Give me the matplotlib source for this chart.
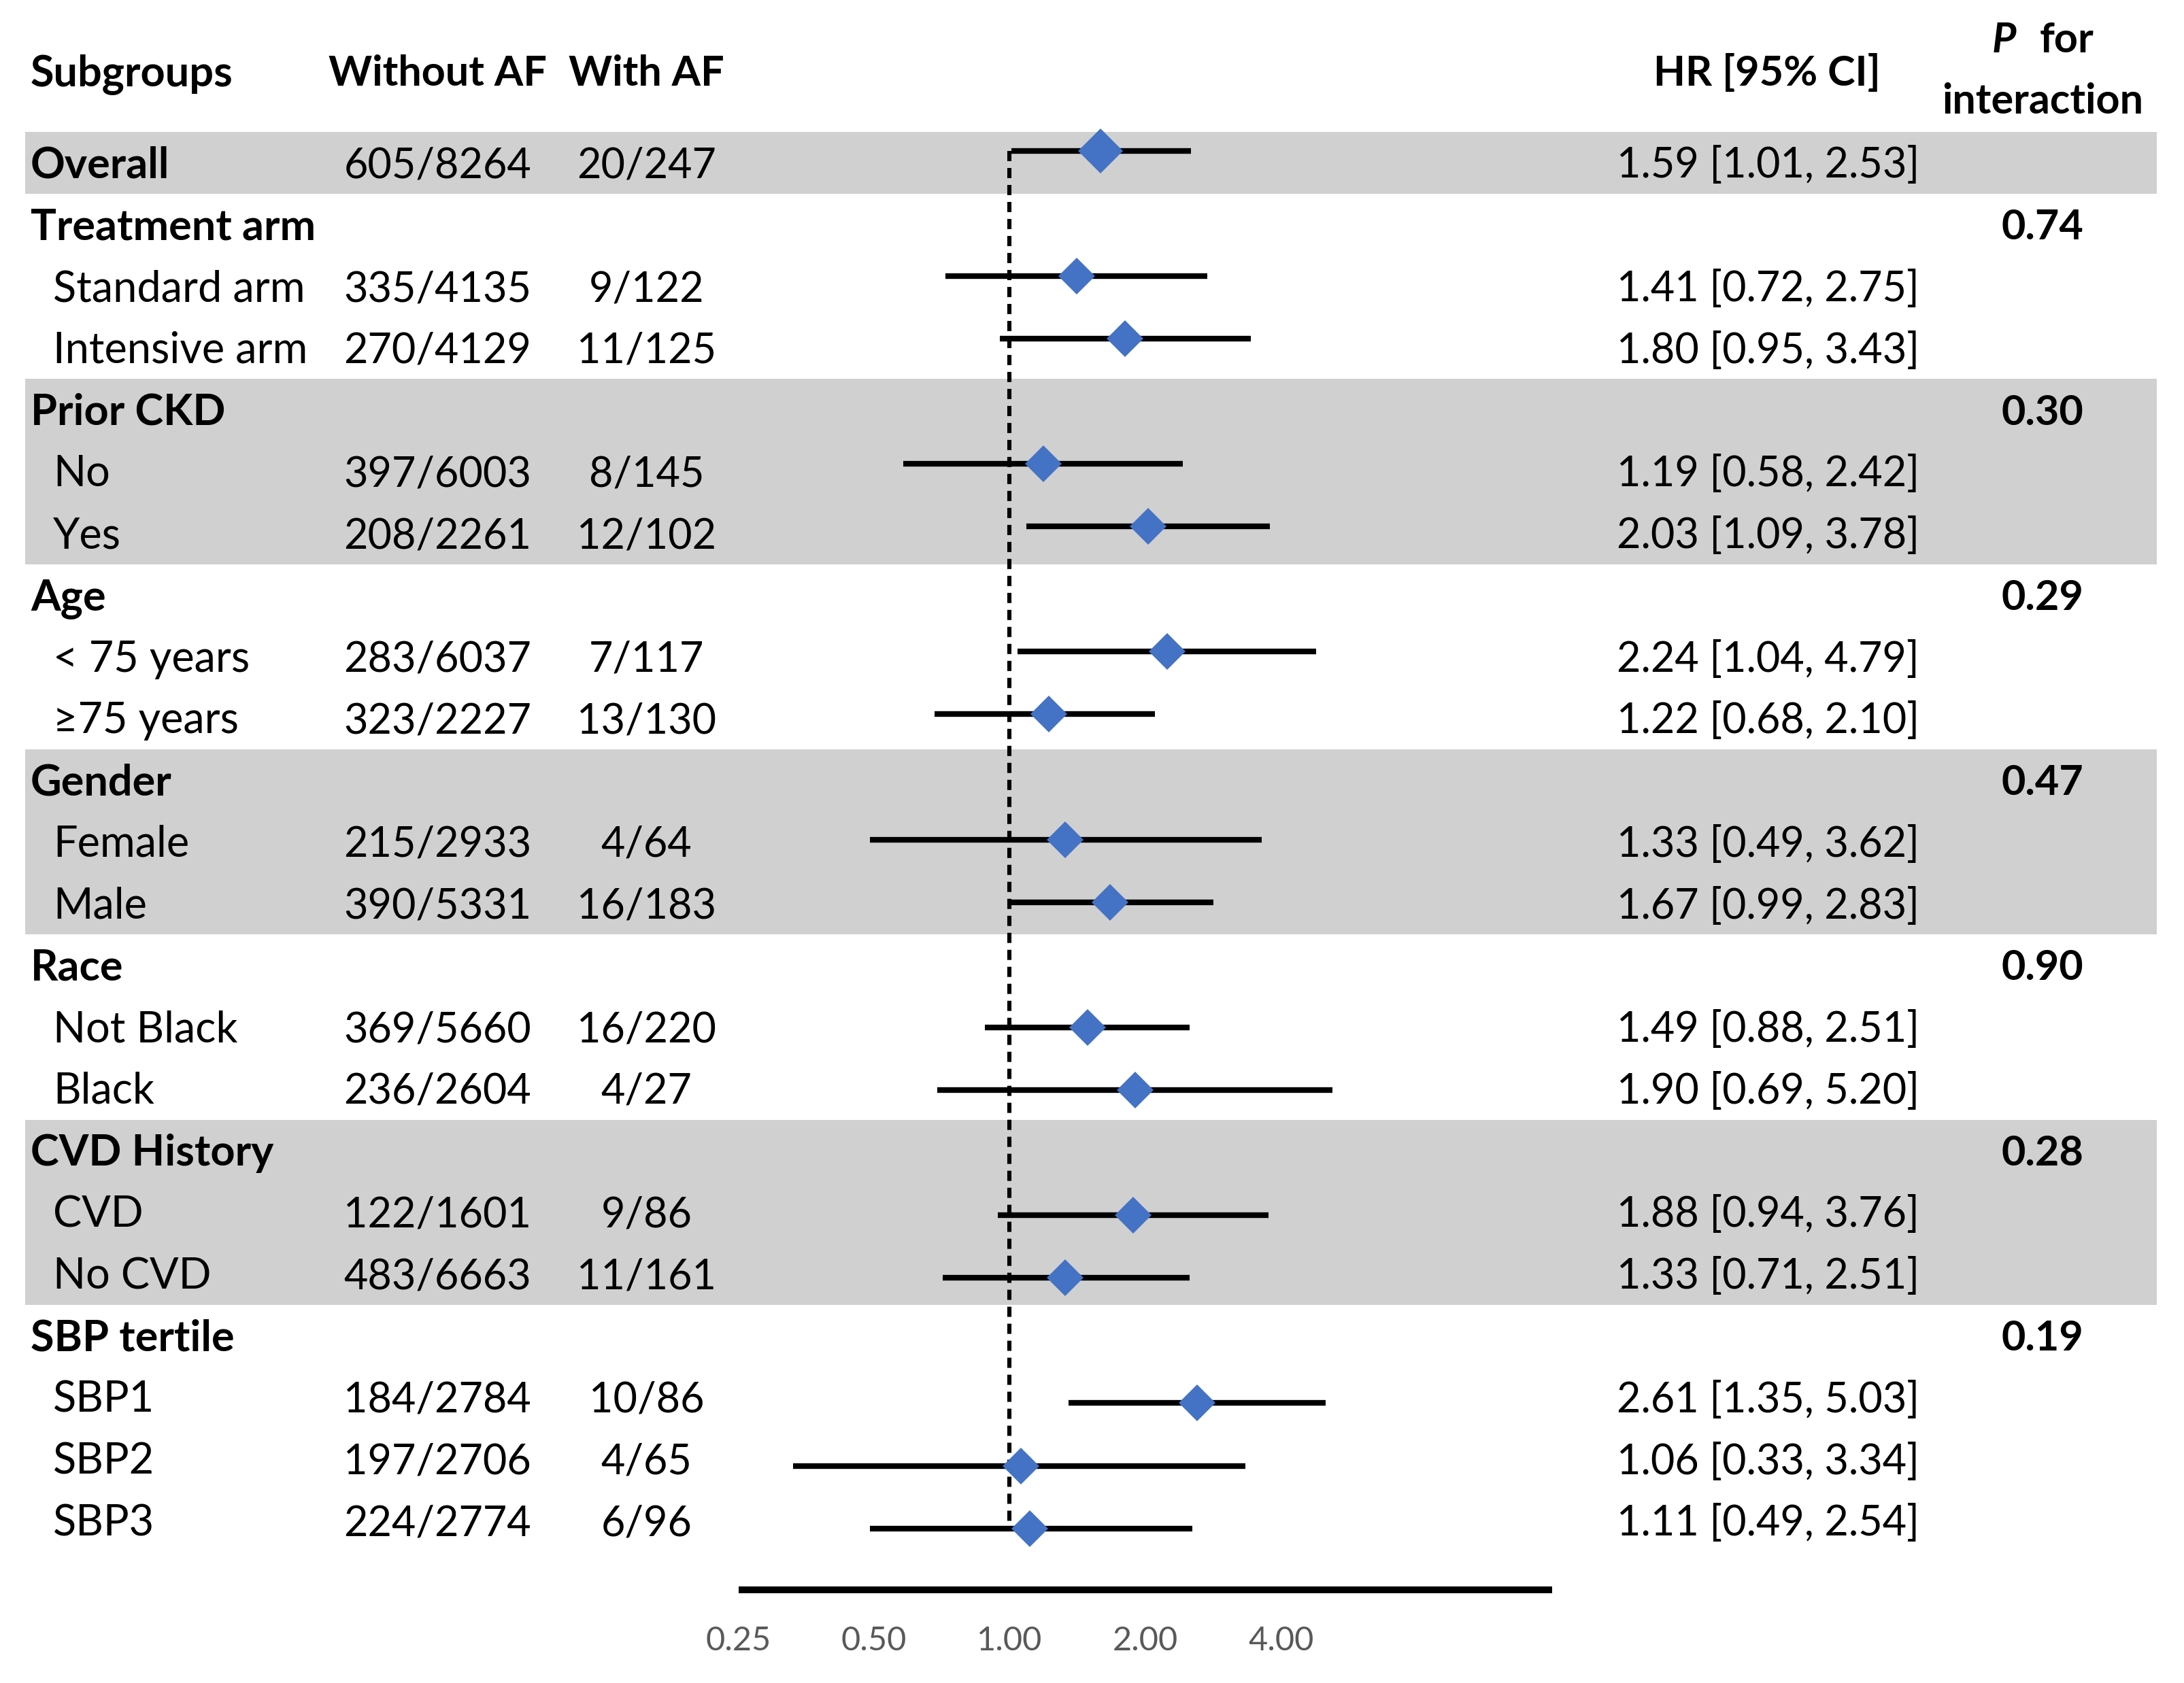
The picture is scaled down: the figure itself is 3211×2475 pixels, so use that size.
import matplotlib
matplotlib.use("Agg")
import matplotlib.pyplot as plt
from matplotlib.transforms import blended_transform_factory
from matplotlib.patches import Rectangle

plt.rcParams['font.family'] = ['Lato', 'DejaVu Sans']

# ---------------- data ----------------
labels = ["Overall", "Treatment arm", "Standard arm", "Intensive arm",
          "Prior CKD", "No", "Yes", "Age", "< 75 years", "\u226575 years",
          "Gender", "Female", "Male", "Race", "Not Black", "Black",
          "CVD History", "CVD", "No CVD", "SBP tertile", "SBP1", "SBP2", "SBP3"]
is_group = [True, True, False, False, True, False, False, True, False, False,
            True, False, False, True, False, False, True, False, False,
            True, False, False, False]
without_af = ["605/8264", "", "335/4135", "270/4129", "", "397/6003", "208/2261",
              "", "283/6037", "323/2227", "", "215/2933", "390/5331", "",
              "369/5660", "236/2604", "", "122/1601", "483/6663", "",
              "184/2784", "197/2706", "224/2774"]
with_af = ["20/247", "", "9/122", "11/125", "", "8/145", "12/102", "", "7/117",
           "13/130", "", "4/64", "16/183", "", "16/220", "4/27", "", "9/86",
           "11/161", "", "10/86", "4/65", "6/96"]
hr = [1.59, None, 1.41, 1.80, None, 1.19, 2.03, None, 2.24, 1.22, None, 1.33,
      1.67, None, 1.49, 1.90, None, 1.88, 1.33, None, 2.61, 1.06, 1.11]
lo = [1.01, None, 0.72, 0.95, None, 0.58, 1.09, None, 1.04, 0.68, None, 0.49,
      0.99, None, 0.88, 0.69, None, 0.94, 0.71, None, 1.35, 0.33, 0.49]
hi = [2.53, None, 2.75, 3.43, None, 2.42, 3.78, None, 4.79, 2.10, None, 3.62,
      2.83, None, 2.51, 5.20, None, 3.76, 2.51, None, 5.03, 3.34, 2.54]
p_int = ["", "0.74", "", "", "0.30", "", "", "0.29", "", "", "0.47", "", "",
         "0.90", "", "", "0.28", "", "", "0.19", "", "", ""]
shaded_blocks = [(0, 0), (4, 6), (10, 12), (16, 18)]
xticks = [0.25, 0.5, 1.0, 2.0, 4.0]
xtick_labels = ["0.25", "0.50", "1.00", "2.00", "4.00"]

# ---------------- figure ----------------
W, H = 1568.0, 1208.0  # reference layout units
ROW = 44.3
fig = plt.figure(figsize=(16.06, 12.375), dpi=200)

ax = fig.add_axes([530 / W, (H - 1141) / H, (1114 - 530) / W, 1141 / H])
ax.set_xscale('log', base=2)
ax.set_xlim(0.25, 16)
ax.set_ylim((1141 - 117) / ROW, (0 - 117) / ROW)
ax.patch.set_alpha(0)
for s in ['top', 'left', 'right']:
    ax.spines[s].set_visible(False)
ax.spines['bottom'].set_linewidth(3.6)
ax.spines['bottom'].set_capstyle('butt')
ax.set_yticks([])
ax.set_xticks(xticks)
ax.set_xticklabels(xtick_labels)
ax.minorticks_off()
ax.tick_params(axis='x', length=0, pad=19, labelsize=17.5, labelcolor='#595959')

tr = blended_transform_factory(fig.transFigure, ax.transData)

# shaded bands
for a, b in shaded_blocks:
    ax.add_patch(Rectangle((18 / W, a - 0.5), (1548 - 18) / W, b - a + 1,
                           transform=tr, facecolor='#D0D0D0', edgecolor='none',
                           zorder=0, clip_on=False))

FS = 22
FSL = 22.7
boff = 0.24   # baseline offset


def marker_y(i):
    # the graphic's marker rows are spaced a touch wider than the text rows
    return i * 44.95 / ROW - 0.2


# reference dashed line
ax.plot([1, 1], [marker_y(0), marker_y(22)], color='black', lw=2.2,
        linestyle=(0, (2.45, 1.64)), zorder=2)

for i, lab in enumerate(labels):
    y = i + boff
    if is_group[i]:
        fig.text(22 / W, y, lab, fontsize=FSL, fontweight='bold', va='baseline',
                 ha='left', transform=tr)
    else:
        fig.text(38 / W, y, lab, fontsize=FSL, va='baseline', ha='left',
                 transform=tr)
    if without_af[i]:
        fig.text(314 / W, y, without_af[i], fontsize=FS, va='baseline',
                 ha='center', transform=tr)
    if with_af[i]:
        fig.text(464 / W, y, with_af[i], fontsize=FS, va='baseline',
                 ha='center', transform=tr)
    if hr[i] is not None:
        my = marker_y(i)
        fig.text(1269 / W, y, f"{hr[i]:.2f} [{lo[i]:.2f}, {hi[i]:.2f}]",
                 fontsize=FS, va='baseline', ha='center', transform=tr)
        ax.plot([lo[i], hi[i]], [my, my], color='black', lw=3.0,
                solid_capstyle='butt', zorder=3)
        ms = 17.0 if i == 0 else 13.6
        ax.plot([hr[i]], [my], marker='D', ms=ms, color='#4472C4',
                markeredgewidth=0, zorder=4)
    if p_int[i]:
        fig.text(1466 / W, y, p_int[i], fontsize=FS, fontweight='bold',
                 va='baseline', ha='center', transform=tr)

# headers
hy = -1.49 + boff
fig.text(22 / W, hy, "Subgroups", fontsize=FSL, fontweight='bold',
         va='baseline', ha='left', transform=tr)
fig.text(314 / W, hy, "Without AF", fontsize=FS, fontweight='bold',
         va='baseline', ha='center', transform=tr)
fig.text(464 / W, hy, "With AF", fontsize=FS, fontweight='bold',
         va='baseline', ha='center', transform=tr)
fig.text(1268 / W, hy, "HR [95% CI]", fontsize=FS, fontweight='bold',
         va='baseline', ha='center', transform=tr)
fig.text(1447 / W, -2.03 + boff, "P", fontsize=FS, fontweight='bold',
         style='italic', va='baseline', ha='right', transform=tr)
fig.text(1464 / W, -2.03 + boff, "for", fontsize=FS, fontweight='bold',
         va='baseline', ha='left', transform=tr)
fig.text(1466 / W, -1.04 + boff, "interaction", fontsize=FS, fontweight='bold',
         va='baseline', ha='center', transform=tr)

fig.savefig("out.png", dpi=200, facecolor='white')
